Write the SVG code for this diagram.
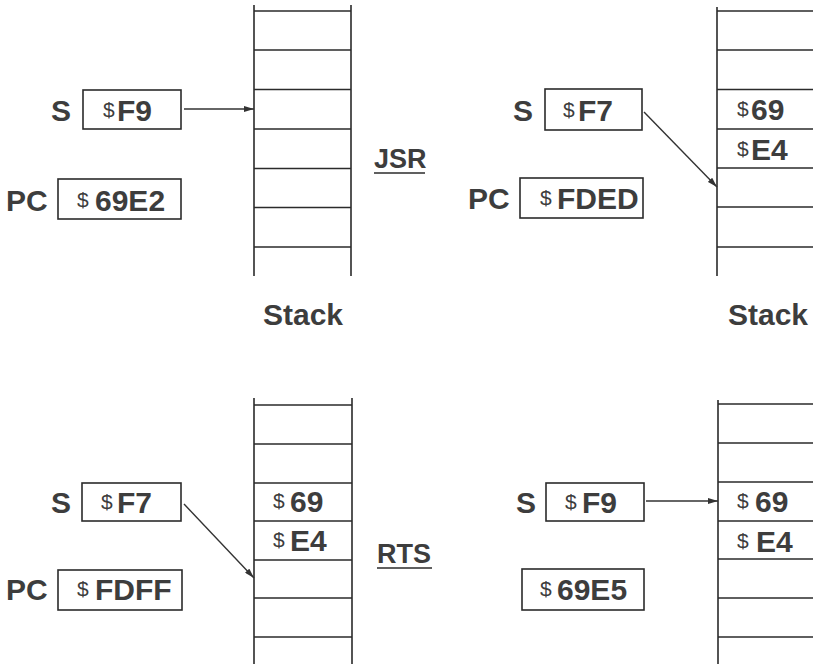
<svg xmlns="http://www.w3.org/2000/svg" width="813" height="664" viewBox="0 0 813 664">
<defs>
<style>
.ln{stroke:#2b2b2b;stroke-width:1.6;fill:none}
.bx{stroke:#2b2b2b;stroke-width:1.6;fill:#fff}
.t{font-family:"Liberation Sans",Arial,sans-serif;font-weight:bold;font-size:30px;fill:#3d3d3d}
.d{font-family:"Liberation Sans",Arial,sans-serif;font-weight:normal;font-size:21px;fill:#3d3d3d}
.op{font-family:"Liberation Sans",Arial,sans-serif;font-weight:bold;font-size:27px;fill:#3d3d3d}
.ar{stroke:#333;stroke-width:1.4;fill:none}
</style>
<marker id="ah" viewBox="0 0 10 6" refX="10" refY="3" markerWidth="10" markerHeight="6" markerUnits="userSpaceOnUse" orient="auto">
<path d="M0,0 L10,3 L0,6 Z" fill="#333"/>
</marker>
</defs>
<rect width="813" height="664" fill="#fff"/>

<!-- Top-left: before JSR -->
<g id="stack-tl">
<path class="ln" d="M254,5V276M351,5V276M254,11H351M254,50H351M254,89.5H351M254,129H351M254,168.5H351M254,207.5H351M254,247H351"/>
</g>
<g id="s-tl">
<text class="t" x="51" y="121">S</text>
<rect class="bx" x="83" y="90" width="98" height="39"/>
<text class="d" x="103" y="117">$</text><text class="t" x="117" y="121">F9</text>
</g>
<g id="pc-tl">
<text class="t" x="6" y="211">PC</text>
<rect class="bx" x="58" y="179" width="123" height="40"/>
<text class="d" x="77" y="207">$</text><text class="t" x="95" y="211">69E2</text>
</g>
<g id="label-stack-l"><text class="t" x="263" y="325">Stack</text></g>

<!-- JSR -->
<g id="jsr">
<text class="op" x="374" y="168">JSR</text>
<path class="ln" d="M374,173H425"/>
</g>

<!-- Top-right: after JSR -->
<g id="stack-tr">
<path class="ln" d="M717,7V276M717,11H813M717,50H813M717,89.5H813M717,129H813M717,168H813M717,207H813M717,247H813"/>
<text class="d" x="737" y="116">$</text><text class="t" x="751" y="120">69</text>
<text class="d" x="737" y="156">$</text><text class="t" x="751" y="160">E4</text>
</g>
<g id="s-tr">
<text class="t" x="513" y="121">S</text>
<rect class="bx" x="545" y="89" width="97" height="41"/>
<text class="d" x="563" y="117">$</text><text class="t" x="578" y="121">F7</text>
</g>
<g id="pc-tr">
<text class="t" x="468" y="209">PC</text>
<rect class="bx" x="520" y="178" width="123" height="40"/>
<text class="d" x="540" y="205">$</text><text class="t" x="557" y="209">FDED</text>
</g>
<g id="label-stack-r"><text class="t" x="728" y="325">Stack</text></g>

<!-- Bottom-left: before RTS -->
<g id="stack-bl">
<path class="ln" d="M254,398V664M352,398V664M254,405H352M254,444H352M254,483H352M254,521H352M254,560H352M254,598H352M254,637H352"/>
<text class="d" x="273" y="508">$</text><text class="t" x="290" y="512">69</text>
<text class="d" x="273" y="547">$</text><text class="t" x="290" y="551">E4</text>
</g>
<g id="s-bl">
<text class="t" x="51" y="513">S</text>
<rect class="bx" x="82" y="483" width="99" height="38"/>
<text class="d" x="101" y="509">$</text><text class="t" x="117" y="513">F7</text>
</g>
<g id="pc-bl">
<text class="t" x="6" y="600">PC</text>
<rect class="bx" x="58" y="570" width="124" height="40"/>
<text class="d" x="77" y="596">$</text><text class="t" x="95" y="600">FDFF</text>
</g>

<!-- RTS -->
<g id="rts">
<text class="op" x="377" y="563">RTS</text>
<path class="ln" d="M377,568H432"/>
</g>

<!-- Bottom-right: after RTS -->
<g id="stack-br">
<path class="ln" d="M718,400V664M718,404H813M718,443H813M718,482H813M718,521H813M718,559H813M718,598H813M718,637H813"/>
<text class="d" x="737" y="508">$</text><text class="t" x="755" y="512">69</text>
<text class="d" x="737" y="548">$</text><text class="t" x="756" y="552">E4</text>
</g>
<g id="s-br">
<text class="t" x="516" y="513">S</text>
<rect class="bx" x="546" y="483" width="98" height="38"/>
<text class="d" x="565" y="509">$</text><text class="t" x="582" y="513">F9</text>
</g>
<g id="pc-br">
<rect class="bx" x="522" y="569" width="122" height="41"/>
<text class="d" x="540" y="596">$</text><text class="t" x="557" y="600">69E5</text>
</g>

<g id="connectors">
<line class="ar" x1="184" y1="109" x2="254" y2="109" marker-end="url(#ah)"/>
<line class="ar" x1="644" y1="112" x2="717" y2="187" marker-end="url(#ah)"/>
<line class="ar" x1="184" y1="504" x2="254" y2="578" marker-end="url(#ah)"/>
<line class="ar" x1="646" y1="501" x2="718" y2="501" marker-end="url(#ah)"/>
</g>
</svg>
